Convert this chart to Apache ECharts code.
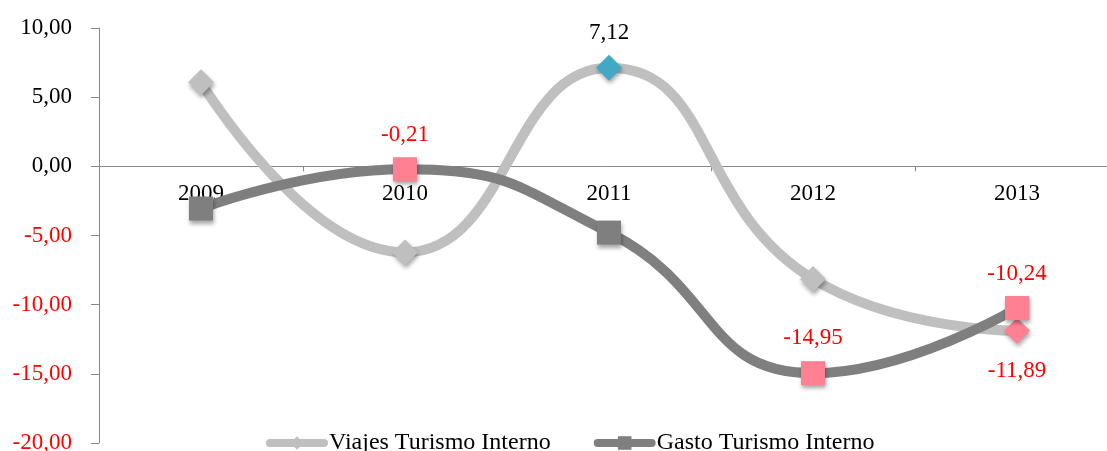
<!DOCTYPE html>
<html>
<head>
<meta charset="utf-8">
<script src="https://cdn.jsdelivr.net/npm/echarts@6/dist/echarts.min.js"></script>
<style>
  html, body { margin: 0; padding: 0; background: #fff; }
  #chart { width: 1107px; height: 451px; }
</style>
</head>
<body>
<div id="chart"></div>
<script>
// Years on the category axis
const categories = ['2009', '2010', '2011', '2012', '2013'];
// Annual variation (%) of domestic tourism trips and spending
const viajes = [6.07, -6.22, 7.12, -8.14, -11.89];
const gasto = [-3.05, -0.21, -4.79, -14.95, -10.24];
const seriesNames = ['Viajes Turismo Interno', 'Gasto Turismo Interno'];
// Value axis range and step
const yMin = -20, yMax = 10, yStep = 5;

const FONT = 'Liberation Serif';
const FS = 23;
const LIGHT = '#BFBFBF';
const DARK = '#7F7F7F';
const PINK = '#FF8091';
const TEAL = '#43A8C4';

const W = 1107, H = 451;
const GRID = { left: 99, right: -12, top: 28, bottom: 8 };
// The category axis sits on the zero line: shift it up from the grid bottom
const plotH = H - GRID.top - GRID.bottom;
const zeroOffset = -plotH * (0 - yMin) / (yMax - yMin);

const fmt = v => v.toFixed(2).replace('.', ',');

// Points that carry a highlighted marker and a value label
const viajesMarks = {
  2: { color: TEAL, labelColor: '#000', pos: 'top', dist: 10 },
  4: { color: PINK, labelColor: '#FF0000', pos: 'bottom', dist: 16 }
};
const gastoMarks = {
  1: { color: PINK, labelColor: '#FF0000', pos: 'top', dist: 11 },
  3: { color: PINK, labelColor: '#FF0000', pos: 'top', dist: 12 },
  4: { color: PINK, labelColor: '#FF0000', pos: 'top', dist: 11 }
};

function buildData(values, marks) {
  return values.map((v, i) => {
    const m = marks[i];
    if (!m) return { value: v };
    return {
      value: v,
      itemStyle: { color: m.color },
      label: {
        show: true,
        position: m.pos,
        distance: m.dist,
        color: m.labelColor,
        fontFamily: FONT,
        fontSize: FS,
        formatter: p => fmt(p.value)
      }
    };
  });
}

const markerShadow = {
  shadowColor: 'rgba(0,0,0,0.35)',
  shadowBlur: 4,
  shadowOffsetX: 1,
  shadowOffsetY: 3
};

const chart = echarts.init(document.getElementById('chart'), null, { renderer: 'canvas' });

chart.setOption({
  animation: false,
  backgroundColor: '#ffffff',
  grid: Object.assign({ containLabel: false, outerBoundsMode: 'none' }, GRID),
  legend: {
    data: seriesNames,
    left: 266,
    top: 431,
    padding: 0,
    itemWidth: 54,
    itemHeight: 17,
    itemGap: 43,
    lineStyle: { width: 8, cap: 'round' },
    itemStyle: { shadowBlur: 0, shadowOffsetX: 0, shadowOffsetY: 0 },
    textStyle: { fontFamily: FONT, fontSize: 24, color: '#000' }
  },
  xAxis: {
    type: 'category',
    data: categories,
    boundaryGap: true,
    position: 'bottom',
    offset: zeroOffset,
    axisLine: { onZero: false, lineStyle: { color: '#888', width: 1 } },
    axisTick: { show: true, length: 5, lineStyle: { color: '#888' } },
    axisLabel: { fontFamily: FONT, fontSize: FS, color: '#000', margin: 16 },
    splitLine: { show: false }
  },
  yAxis: {
    type: 'value',
    min: yMin,
    max: yMax,
    interval: yStep,
    axisLine: { show: true, lineStyle: { color: '#888', width: 1 } },
    axisTick: { show: true, length: 8, lineStyle: { color: '#888' } },
    axisLabel: {
      fontFamily: FONT,
      fontSize: FS,
      margin: 27,
      formatter: v => fmt(v),
      color: v => (Number(v) < 0 ? '#FF0000' : '#000')
    },
    splitLine: { show: false }
  },
  series: [
    {
      name: seriesNames[0],
      type: 'line',
      smooth: 0.5,
      symbol: 'diamond',
      symbolSize: 26,
      data: buildData(viajes, viajesMarks),
      lineStyle: { color: LIGHT, width: 10 },
      itemStyle: Object.assign({ color: LIGHT }, markerShadow),
      z: 2
    },
    {
      name: seriesNames[1],
      type: 'line',
      smooth: 0.5,
      symbol: 'rect',
      symbolSize: 24,
      data: buildData(gasto, gastoMarks),
      lineStyle: { color: DARK, width: 10 },
      itemStyle: Object.assign({ color: DARK }, markerShadow),
      z: 3
    }
  ]
});
</script>
</body>
</html>
